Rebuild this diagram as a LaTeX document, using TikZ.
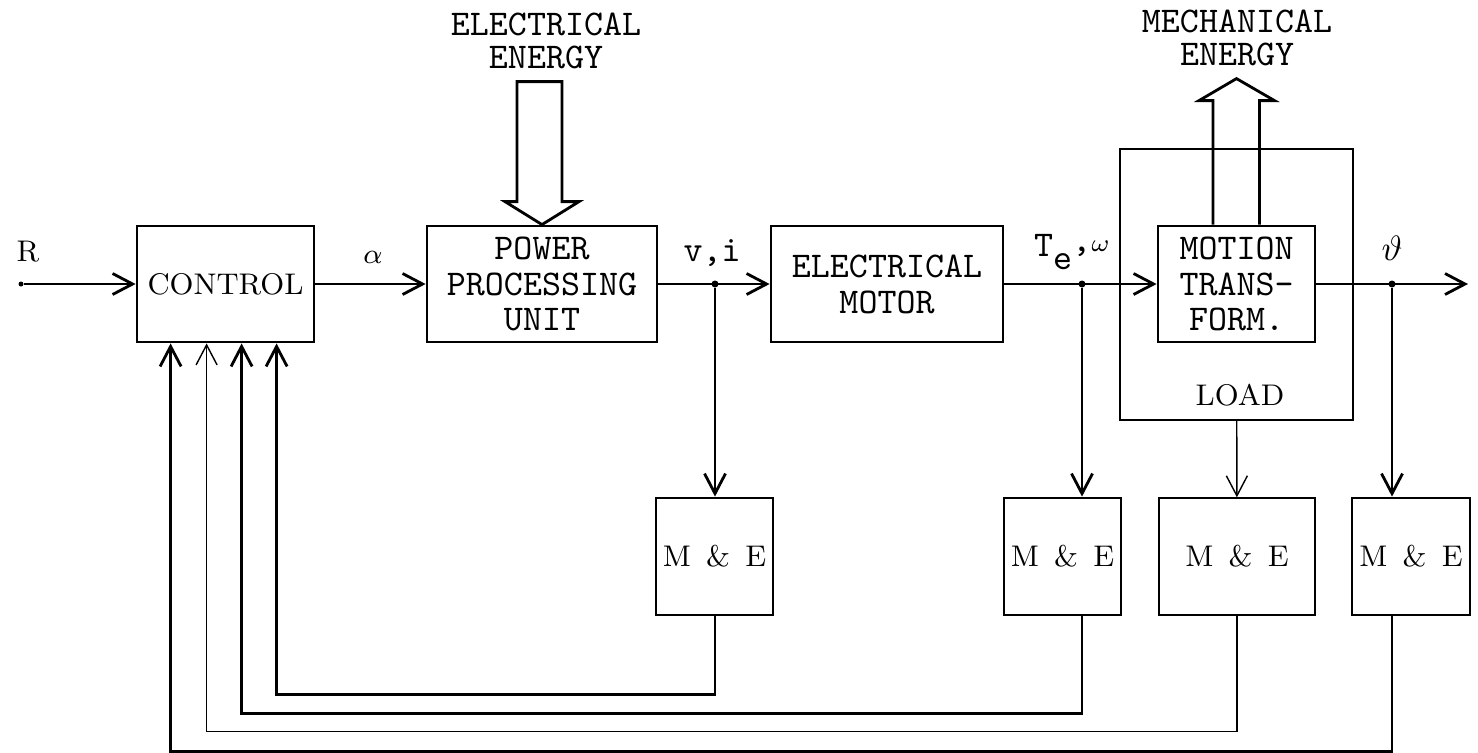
\documentclass[tikz,border=0pt]{standalone}
\usepackage{fontspec}
\usepackage{tikz}
\usetikzlibrary{arrows.meta,positioning,calc}

\begin{document}
\begin{tikzpicture}[
  >={Straight Barb[length=2mm,width=2.1mm]},
  blk/.style={draw, line width=0.8pt, minimum height=1.16cm, align=center, inner sep=0pt,
              font=\ttfamily\fontsize{10.3}{10.2}\selectfont},
  sblk/.style={blk, font=\rmfamily\fontsize{8.5}{10}\selectfont},
  meas/.style={sblk, minimum width=1.17cm, minimum height=1.17cm},
  lbl/.style={font=\ttfamily\fontsize{10.3}{9.3}\selectfont, align=center, inner sep=0pt},
  slbl/.style={font=\rmfamily\fontsize{8.5}{10}\selectfont, inner sep=0pt},
  dot/.style={circle, fill, inner sep=0pt, minimum size=0.7mm},
  wire/.style={->, line width=0.8pt},
  thinwire/.style={->, line width=0.4pt},
  fat/.style={draw, line width=0.8pt, line join=miter}
]
\useasboundingbox (0,0) rectangle (14.78,7.52);

% load frame (behind the motion block)
\node[draw, line width=0.4pt, minimum width=2.33cm, minimum height=2.71cm, inner sep=0pt] (load) at (12.365,4.675) {};
\node[slbl] (loadlbl) at (12.40,3.57) {LOAD};

% forward chain
\node[sblk, minimum width=1.77cm] (ctrl)  at (2.255,4.68) {CONTROL};
\node[blk,  minimum width=2.30cm] (ppu)   at (5.42,4.68)  {POWER\\PROCESSING\\UNIT};
\node[blk,  minimum width=2.32cm] (motor) at (8.87,4.68)  {ELECTRICAL\\MOTOR};
\node[blk,  minimum width=1.57cm] (mot)   at (12.365,4.68) {MOTION\\TRANS-\\FORM.};

% measurement & estimation blocks
\node[meas] (me1) at (7.145,1.955)  {M \,\& \,E};
\node[meas] (me2) at (10.625,1.955) {M \,\& \,E};
\node[meas, line width=0.4pt, minimum width=1.56cm] (meL) at (12.37,1.955) {M \,\& \,E};
\node[meas, minimum width=1.18cm] (me3) at (14.11,1.955) {M \,\& \,E};

% pick-off points
\node[dot, minimum size=0.5mm] (rin) at (0.21,4.68) {};
\node[dot] (jvi) at (7.15,4.68)  {};
\node[dot] (jtw) at (10.82,4.68) {};
\node[dot] (jth) at (13.92,4.68) {};
\coordinate (out) at (14.68,4.68);

% signal labels
\node[slbl] (rlbl) at (0.28,5.00) {R};
\node[slbl] (albl) at (3.73,4.95) {$\alpha$};
\node[lbl]  (vlbl) at (7.12,4.99) {v,i};
\node[lbl]  (tlbl) at (10.72,5.00) {T\raisebox{-3.5pt}{e}\raisebox{1.5pt}{,$\scriptstyle\omega$}};
\node[lbl]  (thlbl) at (13.92,5.04) {$\vartheta$};

% main path
\draw[wire] (rin) -- (ctrl);
\draw[wire] (ctrl) -- (ppu);
\draw[wire] (ppu) -- (motor);
\draw[wire] (motor) -- (mot);
\draw[wire] (mot) -- (out);

% branches down to M & E
\draw[wire] (jvi) -- (jvi |- me1.north);
\draw[wire] (jtw) -- (jtw |- me2.north);
\draw[thinwire] (load) -- (meL);
\draw[wire] (jth) -- (jth |- me3.north);

% feedback into control
\coordinate (f1) at ($(ctrl.south west)+(1.41,0)$);
\coordinate (f2) at ($(ctrl.south west)+(1.06,0)$);
\coordinate (fL) at ($(ctrl.south west)+(0.71,0)$);
\coordinate (f3) at ($(ctrl.south west)+(0.35,0)$);
\draw[wire] (me1.south -| jvi) -- ++(0,-0.78) -| (f1);
\draw[wire] (me2.south -| jtw) -- ++(0,-0.97) -| (f2);
\draw[thinwire] (meL.south) -- ++(0,-1.16) -| (fL);
\draw[wire] (me3.south -| jth) -- ++(0,-1.35) -| (f3);

% energy flows
\draw[fat] (ppu.north) -- ++(0.37,0.23) -- ++(-0.17,0) -- ++(0,1.20) -- ++(-0.45,0)
  -- ++(0,-1.20) -- ++(-0.12,0) -- cycle;
\node[lbl] (elec) at (5.46,7.11) {ELECTRICAL\\ENERGY};
\draw[fat] ($(mot.north)+(-0.235,0)$) -- ++(0,1.24) -- ++(-0.14,0) -- ++(0.375,0.22)
  -- ++(0.38,-0.22) -- ++(-0.15,0) -- ++(0,-1.24);
\node[lbl] (mech) at (12.37,7.14) {MECHANICAL\\ENERGY};
\end{tikzpicture}
\end{document}
